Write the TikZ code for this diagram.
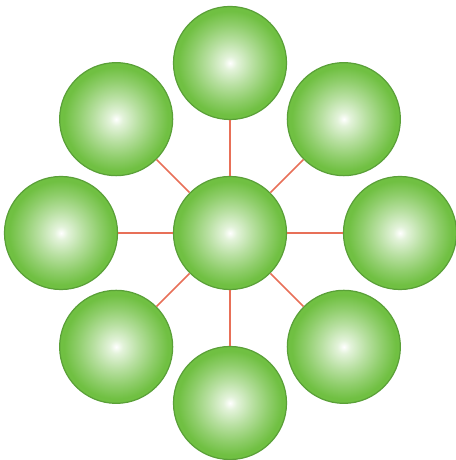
\documentclass[tikz,border=0pt]{standalone}
\usepackage{tikz}
\usetikzlibrary{calc}
\definecolor{ballgreen}{RGB}{112,192,66}
\definecolor{ballrim}{RGB}{90,160,56}
\definecolor{spoke}{RGB}{232,112,88}
\pgfdeclareradialshading{ballglow}{\pgfpoint{0bp}{0bp}}{color(0bp)=(white);
  color(3bp)=(ballgreen!20!white); color(10bp)=(ballgreen!50!white);
  color(17bp)=(ballgreen!78!white); color(23bp)=(ballgreen); color(50bp)=(ballgreen)}

\begin{document}
\begin{tikzpicture}[x=0.2mm, y=0.2mm,
   ball/.style={circle, draw=ballrim, line width=0.7pt, shading=ballglow, minimum size=22.6mm, inner sep=0pt},
   link/.style={draw=spoke, line width=0.9pt}]
  \useasboundingbox (0,0) rectangle (455,460);
  % hub in the middle
  \node[ball] (hub) at (230,227) {};
  % ring of satellites
  \foreach \name/\ang/\dist in {n/90/170, ne/45/161, e/0/170, se/-45/161,
                                s/-90/170, sw/-135/161, w/180/169, nw/135/161}
  {
    \node[ball] (\name) at ($(hub)+(\ang:\dist)$) {};
    \draw[link] (hub) -- (\name);
  }
\end{tikzpicture}
\end{document}
